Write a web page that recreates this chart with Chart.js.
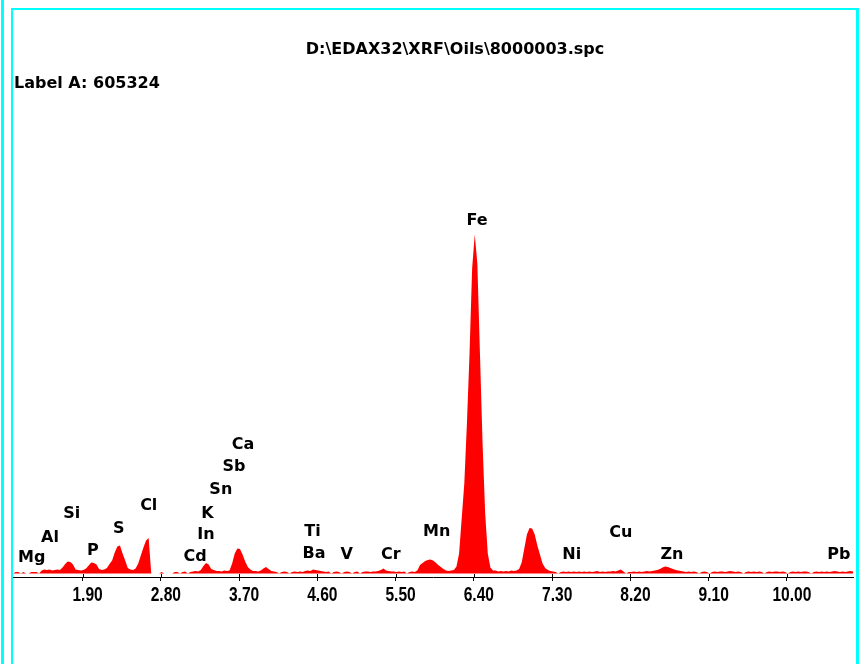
<!DOCTYPE html>
<html><head><meta charset="utf-8">
<script src="https://cdn.jsdelivr.net/npm/chart.js@4.4.1/dist/chart.umd.min.js"></script>
<style>html,body{margin:0;padding:0;background:#fff;}canvas{display:block;}</style>
</head><body>
<canvas id="c" width="862" height="664"></canvas>
<script>
const fileTitle = 'D:\\EDAX32\\XRF\\Oils\\8000003.spc';
const labelText = 'Label A: 605324';

// spectrum: channel calibration and counts per channel
const channelStartKeV = 1.10;
const channelWidthKeV = 0.03;
const counts = [
  0,15,15,0,15,0,0,15,15,15,
  0,30,40,35,40,30,35,40,35,60,
  95,120,115,90,40,35,30,35,50,80,
  110,105,90,45,35,40,55,95,130,210,
  270,280,200,130,55,40,35,50,100,180,
  260,330,355,0,0,0,0,15,0,0,
  0,0,15,15,0,15,20,0,15,20,
  25,20,35,75,105,90,45,35,25,25,
  20,30,25,30,100,200,250,245,190,120,
  65,40,25,25,20,30,50,65,45,25,
  20,15,0,15,20,15,0,15,20,15,
  20,15,25,30,25,40,35,30,25,20,
  15,20,0,15,20,15,0,15,20,15,
  0,15,20,0,15,20,20,15,20,20,
  25,35,50,30,25,20,20,15,20,15,
  20,0,15,20,15,30,85,105,125,135,
  140,130,110,85,65,45,30,25,30,35,
  70,200,550,900,1500,2200,3050,3390,3100,2200,
  1300,600,200,60,30,30,20,25,20,25,
  20,30,25,30,45,110,250,390,455,450,
  390,280,190,100,55,35,25,20,15,0,
  15,20,15,20,15,20,15,20,15,20,
  15,20,15,20,25,15,20,15,20,20,
  25,20,30,40,20,0,15,15,20,15,
  20,15,20,25,20,25,30,35,45,60,
  70,65,55,45,35,30,25,20,15,20,
  15,20,15,0,15,20,15,0,15,20,
  15,20,20,15,20,25,20,15,20,15,
  0,15,20,15,20,15,20,15,0,15,
  20,15,20,20,15,20,15,0,15,20,
  15,20,15,20,20,15,0,15,20,15,
  20,15,20,15,20,25,20,15,20,15,
  20,25,20
];

const tickValues = [1.9, 2.8, 3.7, 4.6, 5.5, 6.4, 7.3, 8.2, 9.1, 10.0];
const tickLabels = ['1.90','2.80','3.70','4.60','5.50','6.40','7.30','8.20','9.10','10.00'];

// element markers: name, energy (keV) and count level of the label
const elementNames    = ['Mg','Al','Si','P','S','Cl','Cd','In','K','Sn','Sb','Ca','Ti','Ba','V','Cr','Mn','Fe','Ni','Cu','Zn','Pb'];
const elementEnergies = [1.315,1.525,1.775,2.018,2.316,2.661,3.193,3.319,3.337,3.490,3.641,3.745,4.544,4.562,4.938,5.445,5.972,6.436,7.525,8.090,8.678,10.597];
const elementLevels   = [160,360,600,230,450,675,165,385,600,840,1065,1290,420,195,185,185,420,3525,185,405,185,185];

const spectrum = counts.map((c, i) => ({ x: channelStartKeV + i * channelWidthKeV, y: c }));

const decor = {
  id: 'decor',
  afterDraw(chart) {
    const ctx = chart.ctx;
    const xs = chart.scales.x, ys = chart.scales.y;
    const area = chart.chartArea;
    ctx.save();
    // cyan frame
    ctx.fillStyle = '#00ffff';
    ctx.fillRect(1, 0, 3, 664);
    ctx.fillRect(11, 8, 2, 656);
    ctx.fillRect(11, 8, 848, 2);
    ctx.fillRect(856, 8, 3, 656);
    // tick stubs above axis
    ctx.strokeStyle = '#000';
    ctx.lineWidth = 1;
    xs.ticks.forEach(t => {
      const px = Math.round(xs.getPixelForValue(t.value)) + 0.5;
      ctx.beginPath();
      ctx.moveTo(px, area.bottom - 3);
      ctx.lineTo(px, area.bottom);
      ctx.stroke();
    });
    // tick labels (narrow bold)
    ctx.fillStyle = '#000';
    ctx.font = 'bold 20px "Liberation Sans", sans-serif';
    ctx.textBaseline = 'middle';
    ctx.textAlign = 'center';
    xs.ticks.forEach((t, i) => {
      ctx.save();
      ctx.translate(xs.getPixelForValue(t.value) + 5, area.bottom + 18);
      ctx.scale(0.78, 1);
      ctx.fillText(tickLabels[i], 0, 0);
      ctx.restore();
    });
    // texts
    ctx.font = 'bold 16px "DejaVu Sans", sans-serif';
    ctx.textAlign = 'center';
    ctx.fillText(fileTitle, 455, 50);
    ctx.textAlign = 'left';
    ctx.fillText(labelText, 14, 84);
    ctx.textAlign = 'center';
    elementNames.forEach((n, i) => {
      ctx.fillText(n, xs.getPixelForValue(elementEnergies[i]), ys.getPixelForValue(elementLevels[i]));
    });
    ctx.restore();
  }
};

new Chart(document.getElementById('c'), {
  type: 'line',
  data: {
    datasets: [{
      data: spectrum,
      fill: 'origin',
      tension: 0,
      backgroundColor: '#ff0000',
      borderColor: 'rgba(0,0,0,0)',
      borderWidth: 1,
      pointRadius: 0
    }]
  },
  options: {
    responsive: false,
    animation: false,
    devicePixelRatio: 1,
    layout: { padding: { left: 13, right: 9, top: 100, bottom: 83 } },
    plugins: { legend: { display: false }, tooltip: { enabled: false }, title: { display: false } },
    scales: {
      x: {
        type: 'linear',
        min: 1.10,
        max: 10.76,
        afterBuildTicks: (scale) => { scale.ticks = tickValues.map(v => ({ value: v })); },
        ticks: { display: false, autoSkip: false },
        grid: { drawOnChartArea: false, drawTicks: true, tickLength: 4, color: '#000' },
        border: { display: true, color: '#000', width: 1 }
      },
      y: {
        display: false,
        min: -35,
        max: 4735
      }
    }
  },
  plugins: [decor]
});
</script>
</body></html>
